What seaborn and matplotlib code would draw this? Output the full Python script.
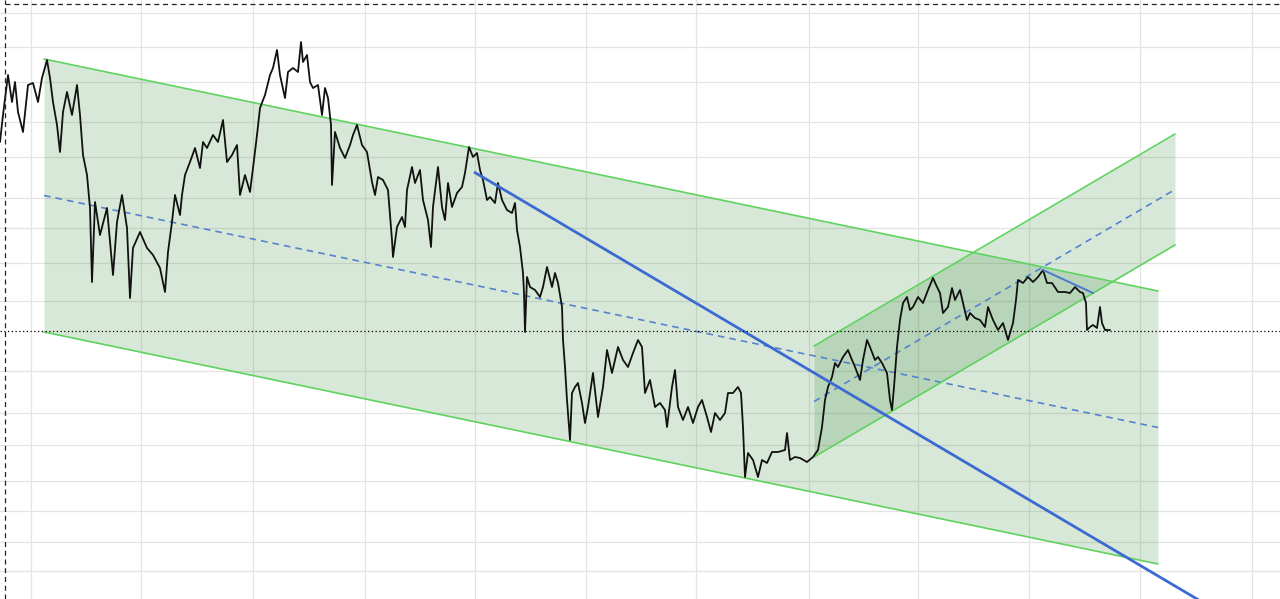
import numpy as np
import pandas as pd
import matplotlib
matplotlib.use("Agg")
import matplotlib.pyplot as plt
import seaborn as sns

# ---- price path (bar index, price) ----
bar = [0, 3, 8, 12, 15, 18, 23, 28, 33, 38, 42, 47, 50, 53, 57, 60, 63, 67, 72, 77,
       80, 83, 87, 90, 92, 95, 100, 107, 110, 113, 117, 122, 127, 130, 133, 140, 147, 153, 160, 165,
       168, 172, 175, 180, 182, 185, 190, 195, 200, 203, 207, 213, 218, 223, 227, 232, 237, 240, 245, 250,
       253, 257, 260, 265, 270, 273, 277, 280, 285, 288, 293, 298, 301, 303, 307, 310, 313, 318, 322, 325,
       328, 331, 332, 335, 340, 345, 350, 353, 357, 362, 367, 372, 375, 378, 383, 388, 392, 393, 397, 402,
       405, 407, 412, 415, 420, 423, 428, 431, 433, 438, 442, 445, 448, 452, 457, 462, 465, 469, 473, 477,
       480, 483, 487, 490, 495, 498, 502, 507, 512, 515, 517, 520, 523, 524, 525, 527, 530, 535, 540, 543,
       547, 552, 555, 558, 562, 563, 565, 567, 570, 572, 575, 578, 582, 585, 588, 593, 598, 603, 607, 612,
       618, 623, 628, 633, 638, 642, 645, 650, 655, 660, 665, 667, 672, 675, 678, 683, 688, 693, 698, 702,
       707, 711, 715, 720, 725, 728, 733, 738, 741, 743, 745, 748, 753, 758, 762, 767, 772, 778, 785, 787,
       790, 795, 800, 807, 813, 818, 822, 825, 828, 832, 835, 838, 843, 848, 852, 855, 860, 863, 867, 870,
       875, 878, 882, 887, 890, 892, 894, 897, 900, 903, 907, 910, 913, 918, 923, 928, 933, 937, 940, 943,
       948, 952, 955, 960, 963, 967, 970, 975, 980, 985, 988, 993, 998, 1003, 1008, 1013, 1016, 1018, 1023, 1028,
       1033, 1038, 1043, 1047, 1052, 1058, 1065, 1070, 1075, 1080, 1083, 1086, 1087, 1090, 1093, 1097, 1100, 1102, 1105, 1110]
price = [458, 485, 525, 498, 518, 488, 468, 515, 517, 498, 522, 540, 522, 498, 475, 448, 488, 508, 485, 515,
         485, 445, 425, 392, 318, 398, 365, 392, 358, 325, 378, 405, 372, 302, 352, 368, 352, 345, 332, 308,
         348, 378, 405, 385, 405, 425, 438, 452, 432, 458, 452, 465, 458, 480, 438, 445, 455, 405, 425, 408,
         432, 465, 492, 505, 525, 532, 550, 525, 502, 528, 532, 528, 558, 538, 545, 518, 512, 515, 485, 512,
         502, 475, 415, 468, 452, 442, 455, 465, 475, 455, 448, 418, 405, 423, 420, 410, 360, 343, 373, 383,
         373, 410, 433, 417, 430, 400, 380, 353, 393, 433, 393, 380, 417, 393, 407, 413, 427, 453, 443, 447,
         430, 420, 400, 403, 397, 417, 400, 390, 387, 397, 370, 353, 327, 307, 268, 323, 313, 310, 303, 313,
         333, 313, 327, 317, 293, 260, 233, 200, 160, 207, 213, 217, 197, 177, 193, 227, 183, 213, 250, 227,
         253, 240, 233, 247, 260, 253, 207, 220, 193, 197, 190, 173, 213, 230, 193, 180, 193, 177, 193, 200,
         183, 168, 187, 180, 187, 207, 207, 213, 207, 173, 123, 147, 140, 123, 140, 137, 148, 148, 150, 167,
         140, 143, 142, 138, 143, 150, 173, 200, 213, 223, 237, 233, 243, 250, 240, 233, 220, 240, 260, 253,
         240, 243, 237, 227, 200, 190, 213, 253, 280, 297, 303, 290, 293, 303, 297, 310, 322, 313, 307, 287,
         293, 312, 300, 310, 297, 280, 287, 282, 280, 273, 293, 280, 270, 277, 260, 277, 300, 320, 317, 323,
         318, 323, 330, 317, 317, 308, 308, 307, 313, 308, 307, 297, 270, 273, 275, 272, 293, 277, 270, 270]

# ---- descending channel (start / end bar, upper and lower rails) ----
down_x = [44, 1158]
down_upper = [541, 309]
down_lower = [268, 36]

# ---- ascending channel ----
up_x = [814, 1175]
up_upper = [254, 466]
up_lower = [143, 355]

# ---- trend lines ----
trend_x = [474, 750]
trend_y = [428, 265]
short_x = [1043, 1093]
short_y = [330, 307]

last_price = 269

# ---- grid levels ----
time_ticks = [31, 141, 253, 365, 475, 586, 696, 809, 918, 1029, 1140, 1252]
price_ticks = [587, 553, 518, 478, 443, 402, 372, 337, 299, 229, 187, 155, 119, 89, 58, 29]

sns.set_style("white")

fig = plt.figure(figsize=(12.8, 5.99), dpi=100)
ax = fig.add_axes([0, 0, 1, 1])
ax.set_xlim(0, 1280)
ax.set_ylim(1, 600)

ax.set_xticks(time_ticks)
ax.set_yticks(price_ticks)
ax.grid(True, color="#e4e4e4", linewidth=0.9)
ax.tick_params(length=0, labelbottom=False, labelleft=False)
for s in ax.spines.values():
    s.set_visible(False)
ax.set_axisbelow(True)

fill_rgb = (0.24, 0.55, 0.24)
rail = "#5fd35f"
mid_blue = "#5584cc"

# descending channel
ax.fill_between(down_x, down_lower, down_upper, color=fill_rgb, alpha=0.2, linewidth=0, zorder=1)
sns.lineplot(x=down_x, y=down_upper, color=rail, lw=1.2, ax=ax, zorder=2)
sns.lineplot(x=down_x, y=down_lower, color=rail, lw=1.2, ax=ax, zorder=2)
down_mid = [(a + b) / 2 for a, b in zip(down_upper, down_lower)]
ax.plot(down_x, down_mid, color=mid_blue, lw=1.2, dashes=(4, 3), zorder=2)

# ascending channel
ax.fill_between(up_x, up_lower, up_upper, color=fill_rgb, alpha=0.2, linewidth=0, zorder=1)
sns.lineplot(x=up_x, y=up_upper, color=rail, lw=1.2, ax=ax, zorder=2)
sns.lineplot(x=up_x, y=up_lower, color=rail, lw=1.2, ax=ax, zorder=2)
up_mid = [(a + b) / 2 for a, b in zip(up_upper, up_lower)]
ax.plot(up_x, up_mid, color=mid_blue, lw=1.2, dashes=(4, 3), zorder=2)

# price
df = pd.DataFrame({"bar": bar, "price": price})
sns.lineplot(data=df, x="bar", y="price", color="#111111", lw=1.3, ax=ax, zorder=4,
             estimator=None, sort=False)

# trend ray extended to the right edge
slope = (trend_y[1] - trend_y[0]) / (trend_x[1] - trend_x[0])
ray_x = [trend_x[0], 1280]
ray_y = [trend_y[0], trend_y[0] + slope * (1280 - trend_x[0])]
ax.plot(ray_x, ray_y, color="#3c6ad0", lw=2.0, zorder=5, solid_capstyle="butt")
ax.plot(short_x, short_y, color="#4a78d0", lw=1.4, zorder=5)

# last price marker and crosshair
ax.axhline(last_price, color="black", lw=0.9, ls=(0, (1, 2)), zorder=6)
ax.axvline(5, color="#222222", lw=0.9, ls=(0, (4, 3)), zorder=6)
ax.axhline(596, xmin=5 / 1280, color="#222222", lw=0.9, ls=(0, (4, 3)), zorder=6)

fig.savefig("out.png", dpi=100)
